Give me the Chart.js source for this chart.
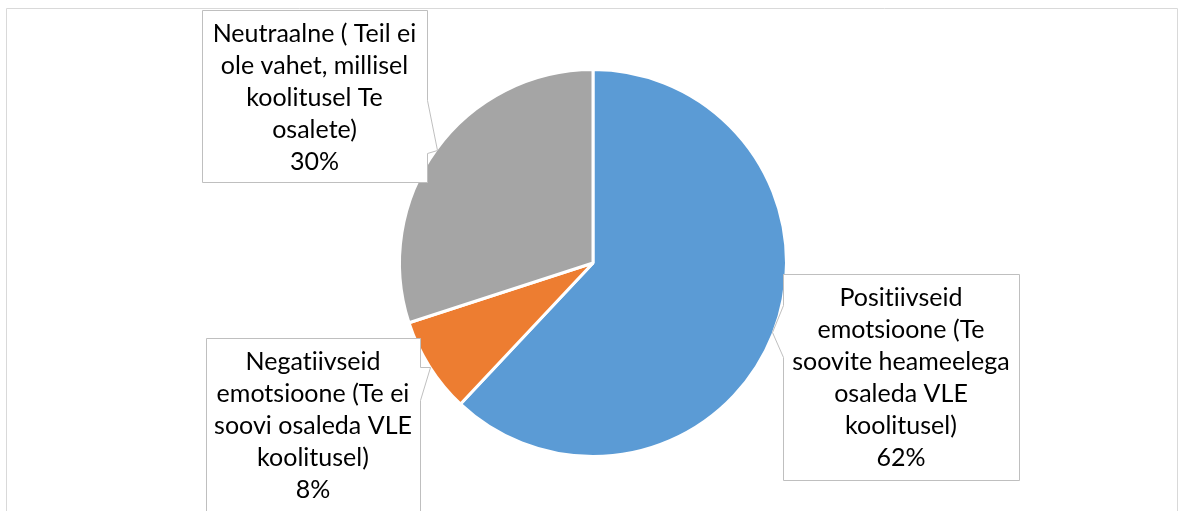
<!DOCTYPE html>
<html>
<head>
<meta charset="utf-8">
<script src="https://cdn.jsdelivr.net/npm/chart.js@4/dist/chart.umd.min.js"></script>
<style>
  html, body { margin: 0; padding: 0; background: #fff; }
  #wrap { width: 1179px; height: 511px; position: relative; }
</style>
</head>
<body>
<div id="wrap"><canvas id="pie"></canvas></div>
<script>
// --- data ---
const categories = [
  "Positiivseid emotsioone (Te soovite heameelega osaleda VLE koolitusel)",
  "Negatiivseid emotsioone (Te ei soovi osaleda VLE koolitusel)",
  "Neutraalne ( Teil ei ole vahet, millisel koolitusel Te osalete)"
];
const labelLines = [
  ["Positiivseid", "emotsioone (Te", "soovite heameelega", "osaleda VLE", "koolitusel)"],
  ["Negatiivseid", "emotsioone (Te ei", "soovi osaleda VLE", "koolitusel)"],
  ["Neutraalne ( Teil ei", "ole vahet, millisel", "koolitusel Te", "osalete)"]
];
const values = [62, 8, 30];
const sliceColors = ["#5B9BD5", "#ED7D31", "#A5A5A5"];

// callout boxes (layout only)
const callouts = [
  { x: 783, y: 274, w: 236, h: 206, side: "left", p: [[783, 305], [772, 332], [783, 357]] },
  { x: 206, y: 338, w: 214, h: 190, side: "right", p: [[420, 367], [430, 367], [420, 400]] },
  { x: 202, y: 10, w: 225, h: 172, side: "right", p: [[427, 100], [437, 150], [427, 153]] }
];

const calloutPlugin = {
  id: "callouts",
  afterDraw(chart) {
    const ctx = chart.ctx;
    const total = values.reduce((a, b) => a + b, 0);
    ctx.save();
    // chart frame
    ctx.strokeStyle = "#d9d9d9";
    ctx.lineWidth = 1;
    ctx.beginPath();
    ctx.moveTo(6.5, 520);
    ctx.lineTo(6.5, 8.5);
    ctx.lineTo(1177.5, 8.5);
    ctx.lineTo(1177.5, 520);
    ctx.stroke();

    callouts.forEach((c, i) => {
      const L = c.x + 0.5, T = c.y + 0.5, R = c.x + c.w + 0.5, B = c.y + c.h + 0.5;
      ctx.beginPath();
      ctx.moveTo(L, T);
      ctx.lineTo(R, T);
      if (c.side === "right") {
        c.p.forEach(pt => ctx.lineTo(pt[0] + 0.5, pt[1] + 0.5));
        ctx.lineTo(R, B);
        ctx.lineTo(L, B);
      } else {
        ctx.lineTo(R, B);
        ctx.lineTo(L, B);
        c.p.slice().reverse().forEach(pt => ctx.lineTo(pt[0] + 0.5, pt[1] + 0.5));
      }
      ctx.closePath();
      ctx.fillStyle = "#ffffff";
      ctx.fill();
      ctx.strokeStyle = "#bfbfbf";
      ctx.stroke();

      const lines = labelLines[i].concat([Math.round(values[i] / total * 100) + "%"]);
      ctx.fillStyle = "#000000";
      ctx.font = "25px Lato";
      ctx.letterSpacing = "0.01px"; // no "ti" ligature
      ctx.textAlign = "center";
      ctx.textBaseline = "middle";
      const cx = c.x + c.w / 2;
      lines.forEach((ln, k) => ctx.fillText(ln, cx, c.y + 24 + k * 32));
    });
    ctx.restore();
  }
};

new Chart(document.getElementById("pie"), {
  type: "pie",
  data: {
    labels: categories,
    datasets: [{
      data: values,
      backgroundColor: sliceColors,
      borderColor: "#ffffff",
      borderWidth: 3
    }]
  },
  options: {
    responsive: true,
    maintainAspectRatio: false,
    animation: false,
    layout: { padding: { top: 68, bottom: 53, left: 398, right: 391 } },
    plugins: { legend: { display: false }, tooltip: { enabled: false } }
  },
  plugins: [calloutPlugin]
});
</script>
</body>
</html>
